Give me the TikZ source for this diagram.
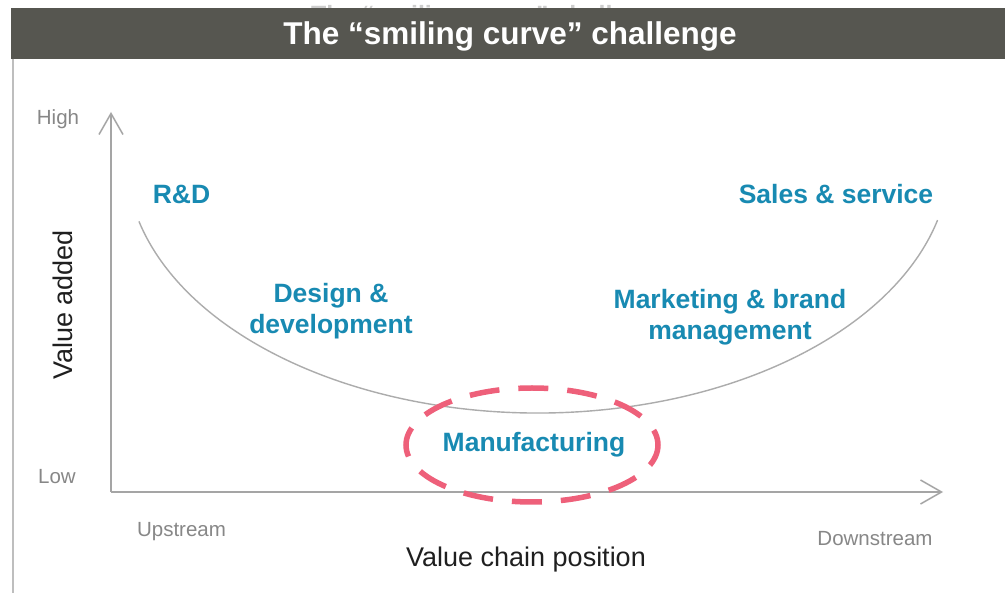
\documentclass[tikz,border=0pt]{standalone}
\usepackage{fontspec}
\setmainfont{Liberation Sans}
\usetikzlibrary{arrows.meta}

\definecolor{barGrey}{RGB}{86,86,80}
\definecolor{ghostGrey}{RGB}{205,205,205}
\definecolor{axisGrey}{RGB}{165,165,165}
\definecolor{curveGrey}{RGB}{172,172,172}
\definecolor{tickGrey}{RGB}{135,135,135}
\definecolor{labelBlue}{RGB}{24,138,178}
\definecolor{ringPink}{RGB}{238,96,122}
\definecolor{frameGrey}{RGB}{190,190,190}

\tikzset{
  stagelabel/.style={inner sep=0pt, text=labelBlue, font=\bfseries\fontsize{26.5}{31}\selectfont, align=center},
  ticklabel/.style={inner sep=0pt, text=tickGrey, font=\fontsize{20.5}{24}\selectfont, anchor=base},
  axistitle/.style={inner sep=0pt, text=black!88, font=\fontsize{27}{31}\selectfont, anchor=base},
  axisline/.style={draw=axisGrey, line width=1.5pt, -{Straight Barb[length=21pt,width=24pt,line width=1.5pt]}},
}

\begin{document}
\begin{tikzpicture}[x=1pt,y=-1pt]
  \useasboundingbox (0,0) rectangle (1005,593);
  \fill[white] (0,0) rectangle (1005,593);

  % faint title text, only its top edge shows above the bar
  \begin{scope}
    \clip (0,0) rectangle (1005,8);
    \node[inner sep=0pt, anchor=base, text=ghostGrey, font=\bfseries\fontsize{25}{29}\selectfont] (ghost) at (491,23.5) {The “smiling curve” challenge};
  \end{scope}

  % title bar
  \fill[barGrey] (11,8) rectangle (1005,58.7);
  \node[inner sep=0pt, anchor=base, text=white, font=\bfseries\fontsize{31.5}{36}\selectfont] (title) at (510,45) {The “smiling curve” challenge};

  % left frame edge
  \draw[frameGrey, line width=2pt] (12.7,58.7) -- (12.7,593);

  % axes
  \coordinate (origin) at (111,492);
  \coordinate (ytip) at (111,112);
  \coordinate (xtip) at (943,492);
  \draw[axisline] (origin) -- (ytip);
  \draw[axisline] (origin) -- (xtip);

  % axis end labels
  \node[ticklabel] (high) at (58,125) {High};
  \node[ticklabel] (low) at (57,484) {Low};
  \node[ticklabel] (up) at (181.5,537) {Upstream};
  \node[ticklabel] (down) at (875,546) {Downstream};

  % axis titles
  \node[axistitle] (xtitle) at (526,567) {Value chain position};
  \node[axistitle, rotate=90] (ytitle) at (72,305) {Value added};

  % the smiling curve
  \coordinate (smileC) at (538,158);
  \draw[curveGrey, line width=1.4pt]
    (smileC) ++(165.6:412 and 255)
    arc[start angle=165.6, end angle=14.1, x radius=412, y radius=255];

  % value chain stages
  \node[stagelabel, anchor=base] (rd) at (181.5,204) {R\&D};
  \node[stagelabel, anchor=base] (sales) at (836,204) {Sales \& service};
  \node[stagelabel] (design) at (331,311) {Design \&\\development};
  \node[stagelabel] (marketing) at (730,317.5) {Marketing \& brand\\management};
  \node[stagelabel, anchor=base] (manu) at (534,452) {Manufacturing};

  % highlight ring around manufacturing
  \draw[ringPink, line width=5.5pt, dash pattern=on 30pt off 19pt, dash phase=8pt]
    (532,445) ellipse[x radius=126, y radius=57];
\end{tikzpicture}
\end{document}
